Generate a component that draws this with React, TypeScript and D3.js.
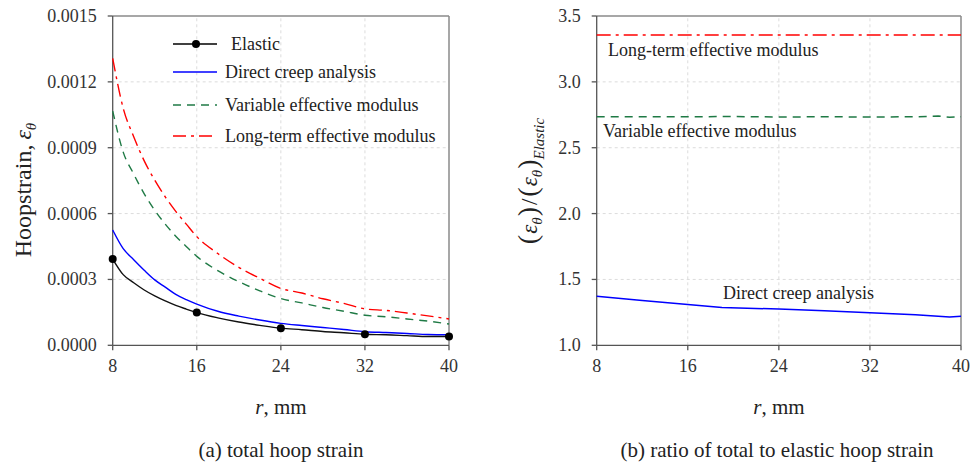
import React from "react";
import * as d3 from "d3";

// radius positions (mm)
const radii = [8, 9, 10, 11, 12, 13, 14, 15, 16, 18, 20, 22, 24, 26, 28, 30, 32, 34, 36, 38, 40];
const elasticStrain = [0.000393, 0.000322, 0.000285, 0.000252, 0.000225, 0.000202, 0.000182, 0.000165, 0.000149, 0.000125, 0.000106, 0.000091, 0.000078, 0.000071, 0.000063, 0.000057, 0.00005, 0.000048, 0.000044, 0.00004, 0.00004];
const directStrain = [0.000525, 0.00044, 0.00039, 0.000342, 0.000298, 0.000265, 0.000232, 0.000208, 0.000188, 0.000155, 0.000133, 0.000115, 0.0001, 0.00009, 0.000081, 0.000072, 0.000062, 0.000058, 0.000054, 0.000049, 0.000048];
const variableStrain = [0.001067, 0.00088, 0.00078, 0.00069, 0.000615, 0.000552, 0.000497, 0.00045, 0.000405, 0.00034, 0.00029, 0.000248, 0.000213, 0.000193, 0.000172, 0.000155, 0.000137, 0.00013, 0.00012, 0.00011, 0.000097];
const longTermStrain = [0.001307, 0.00108, 0.00095, 0.00084, 0.000752, 0.000676, 0.00061, 0.000552, 0.000495, 0.000418, 0.000355, 0.000305, 0.000259, 0.000238, 0.000212, 0.000191, 0.000166, 0.000159, 0.000147, 0.000134, 0.00012];
const elasticMarkerR = [8, 16, 24, 32, 40];
const elasticMarkerVal = [0.000393, 0.000149, 0.000078, 0.00005, 0.00004];

// ratio panel
const directRatioR = [8, 12, 16, 19, 24, 28, 32, 36, 39, 40];
const directRatio = [1.372, 1.34, 1.31, 1.287, 1.275, 1.262, 1.247, 1.232, 1.215, 1.22];
const variableRatioR = [8, 16, 20, 24, 28, 32, 36, 38, 39, 40];
const variableRatio = [2.735, 2.735, 2.737, 2.733, 2.735, 2.733, 2.735, 2.74, 2.731, 2.735];
const longTermRatioR = [8, 40];
const longTermRatio = [3.356, 3.356];

const xTicks = [8, 16, 24, 32, 40];
const strainTicks = [0, 0.0003, 0.0006, 0.0009, 0.0012, 0.0015];
const ratioTicks = [1.0, 1.5, 2.0, 2.5, 3.0, 3.5];

const FONT = "'Liberation Serif', 'Times New Roman', serif";
const BLUE = "#0000ff";
const GREEN = "#1f7a45";
const RED = "#ff0000";

type Pt = [number, number];
const zip = (a: number[], b: number[]): Pt[] => a.map((v, i) => [v, b[i]]);

function Frame({ x, y, ticksY, fmt }: any) {
  const [x0, x1] = x.range();
  const [y0, y1] = y.range();
  return (
    <g>
      {xTicks.slice(1, -1).map((t) => (
        <line key={"gx" + t} x1={x(t)} x2={x(t)} y1={y0} y2={y1} stroke="#dcdcdc" strokeDasharray="3,3" />
      ))}
      {ticksY.slice(1, -1).map((t: number) => (
        <line key={"gy" + t} x1={x0} x2={x1} y1={y(t)} y2={y(t)} stroke="#dcdcdc" strokeDasharray="3,3" />
      ))}
      <line x1={x0} x2={x1} y1={y1} y2={y1} stroke="#8a8a8a" strokeWidth={1.5} />
      <line x1={x1} x2={x1} y1={y1} y2={y0} stroke="#8a8a8a" strokeWidth={1.5} />
      <line x1={x0} x2={x0} y1={y0} y2={y1} stroke="#555" strokeWidth={1.3} />
      <line x1={x0} x2={x1} y1={y0} y2={y0} stroke="#555" strokeWidth={1.3} />
      {xTicks.map((t) => (
        <g key={"tx" + t}>
          <line x1={x(t)} x2={x(t)} y1={y0} y2={y0 + 5} stroke="#555" strokeWidth={1.3} />
          <text x={x(t)} y={y0 + 27} textAnchor="middle" fontSize={18} fill="#333">{t}</text>
        </g>
      ))}
      {ticksY.map((t: number) => (
        <g key={"ty" + t}>
          <line x1={x0 - 5} x2={x0} y1={y(t)} y2={y(t)} stroke="#555" strokeWidth={1.3} />
          <text x={x0 - 16} y={y(t) + 6} textAnchor="end" fontSize={18} fill="#333">{fmt(t)}</text>
        </g>
      ))}
    </g>
  );
}

export default function App() {
  const xa = d3.scaleLinear().domain([8, 40]).range([112.7, 449]);
  const ya = d3.scaleLinear().domain([0, 0.0015]).range([345.3, 16]);
  const xb = d3.scaleLinear().domain([8, 40]).range([596.7, 961]);
  const yb = d3.scaleLinear().domain([1.0, 3.5]).range([345.3, 16]);

  const lineA = d3.line<Pt>().x((d) => xa(d[0])).y((d) => ya(d[1])).curve(d3.curveMonotoneX);
  const lineB = d3.line<Pt>().x((d) => xb(d[0])).y((d) => yb(d[1]));

  const legend = [
    { label: "Elastic", color: "#000", dash: "", y: 44, tx: 231 },
    { label: "Direct creep analysis", color: BLUE, dash: "", y: 72, tx: 225 },
    { label: "Variable effective modulus", color: GREEN, dash: "8,6", y: 105, tx: 225 },
    { label: "Long-term effective modulus", color: RED, dash: "13,5,3,5", y: 136, tx: 225 },
  ];

  return (
    <svg width={971} height={465} style={{ display: "block", position: "absolute", left: 0, top: 0, background: "#fff" }} fontFamily={FONT}>
      {/* panel (a) */}
      <Frame x={xa} y={ya} ticksY={strainTicks} fmt={(t: number) => t.toFixed(4)} />
      <path d={lineA(zip(radii, longTermStrain)) || ""} fill="none" stroke={RED} strokeWidth={1.4} strokeDasharray="13,5,3,5" />
      <path d={lineA(zip(radii, variableStrain)) || ""} fill="none" stroke={GREEN} strokeWidth={1.4} strokeDasharray="8,6" />
      <path d={lineA(zip(radii, directStrain)) || ""} fill="none" stroke={BLUE} strokeWidth={1.4} />
      <path d={lineA(zip(radii, elasticStrain)) || ""} fill="none" stroke="#111" strokeWidth={1.4} />
      {elasticMarkerR.map((r, i) => (
        <circle key={r} cx={xa(r)} cy={ya(elasticMarkerVal[i])} r={4} fill="#000" />
      ))}
      {legend.map((l) => (
        <g key={l.label}>
          <line x1={173} x2={217} y1={l.y} y2={l.y} stroke={l.color} strokeWidth={1.4} strokeDasharray={l.dash} />
          {l.label === "Elastic" && <circle cx={196} cy={l.y} r={4} fill="#000" />}
          <text x={l.tx} y={l.y + 6} fontSize={18} fill="#222">{l.label}</text>
        </g>
      ))}
      <text transform="translate(31,190) rotate(-90)" textAnchor="middle" fontSize={24} fill="#222">
        Hoopstrain,<tspan dx={5} fontStyle="italic">ε</tspan>
        <tspan fontStyle="italic" fontSize={15} dy={5}>θ</tspan>
      </text>
      <text x={281} y={414} textAnchor="middle" fontSize={21} fill="#222">
        <tspan fontStyle="italic">r</tspan>, mm
      </text>
      <text x={281} y={457} textAnchor="middle" fontSize={21} fill="#222">(a) total hoop strain</text>

      {/* panel (b) */}
      <Frame x={xb} y={yb} ticksY={ratioTicks} fmt={(t: number) => t.toFixed(1)} />
      <path d={lineB(zip(longTermRatioR, longTermRatio)) || ""} fill="none" stroke={RED} strokeWidth={1.5} strokeDasharray="14,5,3,5" />
      <path d={lineB(zip(variableRatioR, variableRatio)) || ""} fill="none" stroke={GREEN} strokeWidth={1.5} strokeDasharray="8,6" />
      <path d={lineB(zip(directRatioR, directRatio)) || ""} fill="none" stroke={BLUE} strokeWidth={1.5} />
      <text x={608} y={56} fontSize={18} fill="#222">Long-term effective modulus</text>
      <text x={603} y={137} fontSize={18} fill="#222">Variable effective modulus</text>
      <text x={723} y={299} fontSize={18} fill="#222">Direct creep analysis</text>
      <text transform="translate(537,181) rotate(-90)" textAnchor="middle" fontSize={23} fill="#222">
        <tspan fontSize={28}>(</tspan>
        <tspan dx={1} fontStyle="italic">ε</tspan>
        <tspan fontStyle="italic" fontSize={15} dy={5}>θ</tspan>
        <tspan fontSize={28} dy={-5} dx={1}>)</tspan>
        <tspan dx={2}>/</tspan>
        <tspan fontSize={28} dx={2}>(</tspan>
        <tspan dx={1} fontStyle="italic">ε</tspan>
        <tspan fontStyle="italic" fontSize={15} dy={5}>θ</tspan>
        <tspan fontSize={28} dy={-5} dx={1}>)</tspan>
        <tspan fontStyle="italic" fontSize={15} dy={7}>Elastic</tspan>
      </text>
      <text x={779} y={414} textAnchor="middle" fontSize={21} fill="#222">
        <tspan fontStyle="italic">r</tspan>, mm
      </text>
      <text x={777} y={457} textAnchor="middle" fontSize={21} fill="#222">(b) ratio of total to elastic hoop strain</text>
    </svg>
  );
}
